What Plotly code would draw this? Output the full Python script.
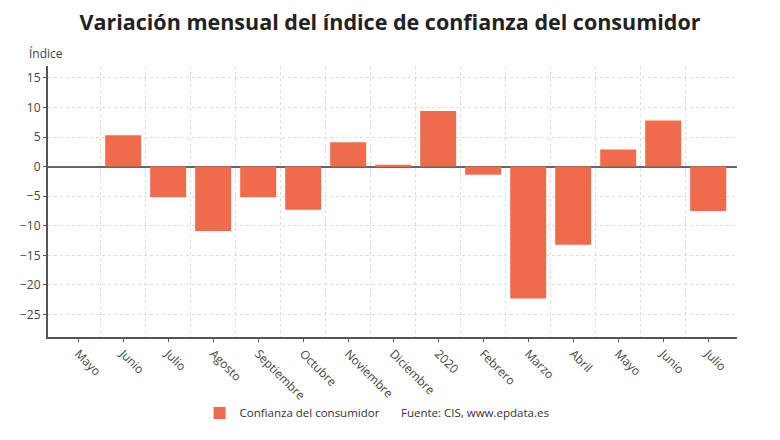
import plotly.graph_objects as go

months = ["Mayo", "Junio", "Julio", "Agosto", "Septiembre", "Octubre", "Noviembre",
          "Diciembre", "2020", "Febrero", "Marzo", "Abril", "Mayo", "Junio", "Julio"]
values = [0.0, 5.3, -5.2, -10.9, -5.2, -7.3, 4.1, 0.3, 9.4, -1.4, -22.3, -13.2, 2.9, 7.8, -7.5]
y_ticks = [15, 10, 5, 0, -5, -10, -15, -20, -25]

x = list(range(len(months)))
font = "Open Sans"

fig = go.Figure()
fig.add_trace(go.Bar(
    x=x, y=values, width=0.8, marker_color="#F06B4C", marker_line_width=0,
    name="Confianza del consumidor", showlegend=True,
))

fig.update_layout(
    width=780, height=440,
    margin=dict(l=48, r=43, t=66, b=99),
    paper_bgcolor="white", plot_bgcolor="white",
    font=dict(family=font, size=12, color="#444"),
    title=dict(text="<b>Variación mensual del índice de confianza del consumidor</b>",
               x=0.5, xanchor="center", y=0.95, yanchor="middle",
               font=dict(family=font, size=21.5, color="#222")),
    legend=dict(orientation="h", x=0.22, xanchor="left", y=-0.28, yanchor="middle",
                bgcolor="rgba(0,0,0,0)", font=dict(size=11.5, color="#333")),
    showlegend=True,
)
fig.update_xaxes(
    tickmode="array", tickvals=x, ticktext=months, tickangle=45,
    range=[-0.67, 14.64], showgrid=False,
    showline=True, linecolor="#555", linewidth=2,
    ticks="outside", ticklen=3, tickcolor="#555",
    tickfont=dict(size=12, color="#444"),
    automargin=False,
)
fig.update_xaxes(minor=dict(tickvals=[i + 0.5 for i in x[:-1]], showgrid=True,
                            gridcolor="#DDDDDD", griddash="dot", gridwidth=1, ticks=""))
fig.update_yaxes(
    tickmode="array", tickvals=y_ticks, range=[-28.8, 17],
    showgrid=True, gridcolor="#DDDDDD", griddash="dot", gridwidth=1,
    zeroline=True, zerolinecolor="#666", zerolinewidth=2,
    showline=True, linecolor="#555", linewidth=2,
    ticks="outside", ticklen=3, tickcolor="#555",
    tickfont=dict(size=12, color="#444"),
    automargin=False,
)
fig.add_annotation(text="Índice", xref="paper", yref="paper", x=-0.03, y=1.047,
                   xanchor="left", yanchor="middle", showarrow=False,
                   font=dict(size=12, color="#444"))
fig.add_annotation(text="Fuente: CIS, www.epdata.es", xref="paper", yref="paper",
                   x=0.51, y=-0.28, xanchor="left", yanchor="middle", showarrow=False,
                   font=dict(size=11.5, color="#333"))

fig.write_html("out.html")
